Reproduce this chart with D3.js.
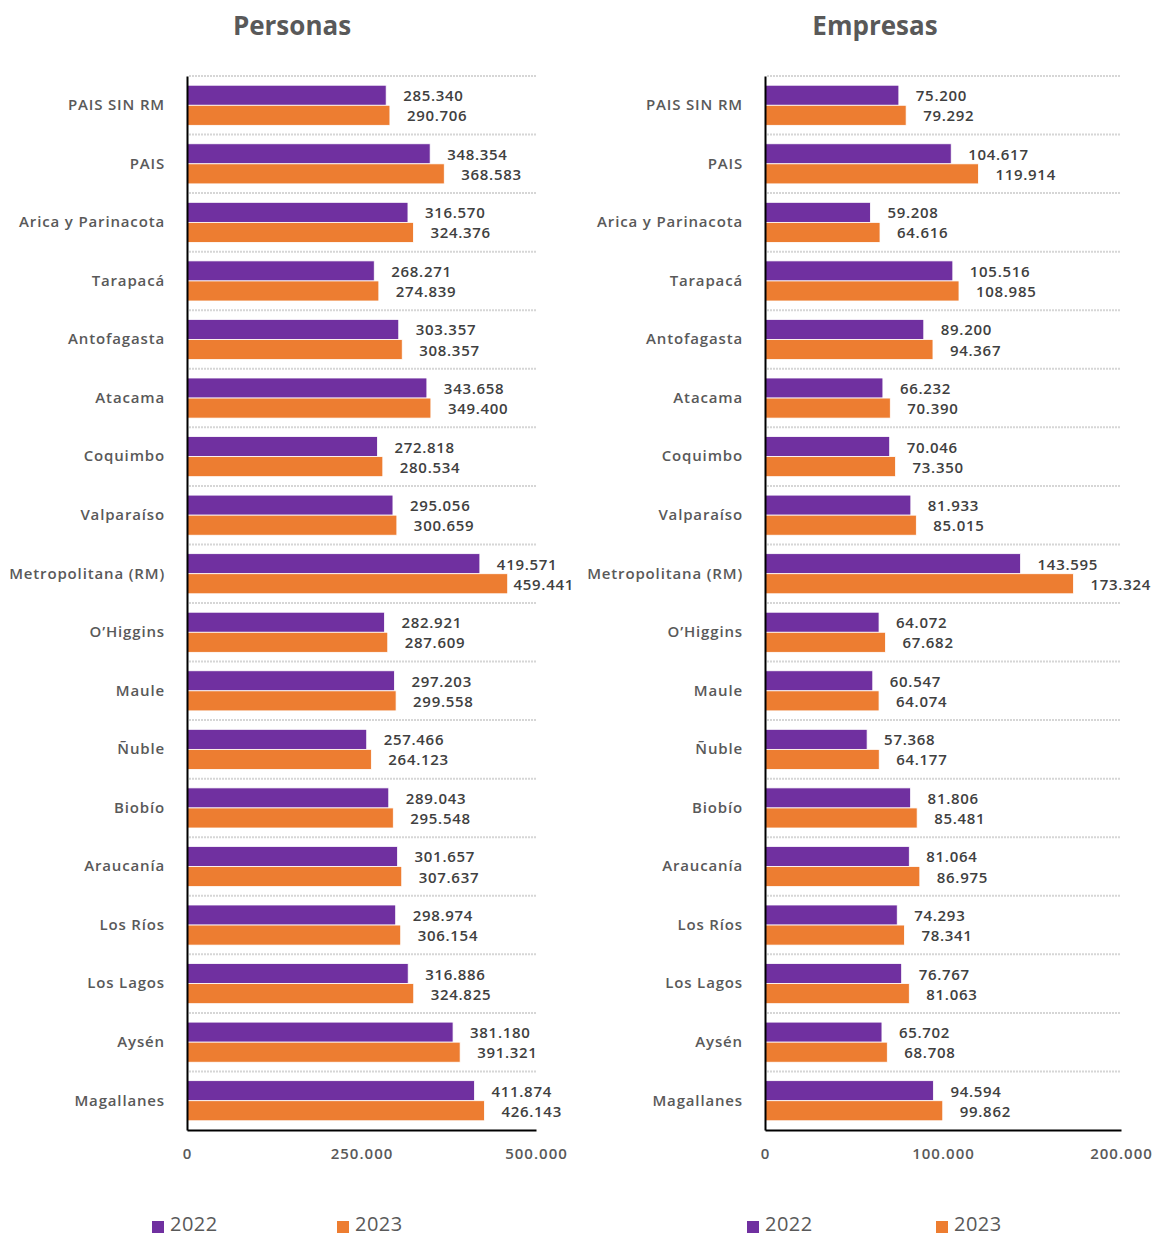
<!DOCTYPE html>
<html><head><meta charset="utf-8">
<script src="https://cdn.jsdelivr.net/npm/d3@7"></script>
<style>
body{margin:0;background:#fff;}
svg{display:block;font-family:"Open Sans",sans-serif;}
</style></head>
<body>
<svg id="chart" width="1152" height="1239"></svg>
<script>
const categories = ["PAIS SIN RM","PAIS","Arica y Parinacota","Tarapacá","Antofagasta","Atacama","Coquimbo","Valparaíso","Metropolitana (RM)","O’Higgins","Maule","Ñuble","Biobío","Araucanía","Los Ríos","Los Lagos","Aysén","Magallanes"];
const seriesNames = ["2022","2023"];
const personas2022 = [285340,348354,316570,268271,303357,343658,272818,295056,419571,282921,297203,257466,289043,301657,298974,316886,381180,411874];
const personas2023 = [290706,368583,324376,274839,308357,349400,280534,300659,459441,287609,299558,264123,295548,307637,306154,324825,391321,426143];
const empresas2022 = [75200,104617,59208,105516,89200,66232,70046,81933,143595,64072,60547,57368,81806,81064,74293,76767,65702,94594];
const empresas2023 = [79292,119914,64616,108985,94367,70390,73350,85015,173324,67682,64074,64177,85481,86975,78341,81063,68708,99862];
const personasTicks = [0,250000,500000];
const empresasTicks = [0,100000,200000];
const titles = ["Personas","Empresas"];

const colors = {"2022":"#7030A0","2023":"#ED7D31"};
const loc = d3.formatLocale({decimal:",",thousands:".",grouping:[3],currency:["$",""]});
const fmt = loc.format(",d");

const svg = d3.select("#chart");
const plotTop = 76, plotBottom = 1130;

const panels = [
  {title:titles[0], d22:personas2022, d23:personas2023, ticks:personasTicks, x0:187, x1:536, titleX:292, legX:[152,337], labelLimit:574},
  {title:titles[1], d22:empresas2022, d23:empresas2023, ticks:empresasTicks, x0:765, x1:1121, titleX:875, legX:[747,936], labelLimit:1152}
];

const y0 = d3.scaleBand().domain(categories).range([plotTop,plotBottom]).padding(0);
const y1 = d3.scaleBand().domain(seriesNames).range([0,y0.bandwidth()]).paddingInner(0).paddingOuter(0.46);

panels.forEach(p=>{
  const g = svg.append("g");
  const x = d3.scaleLinear().domain([0,p.ticks[p.ticks.length-1]]).range([p.x0,p.x1]);

  g.append("text").attr("x",p.titleX).attr("y",35).attr("text-anchor","middle")
    .attr("font-size",26).attr("font-weight",700).attr("fill","#595959").text(p.title);

  g.selectAll(".grid").data(categories).enter().append("line")
    .attr("x1",p.x0+2).attr("x2",p.x1)
    .attr("y1",d=>y0(d)).attr("y2",d=>y0(d))
    .attr("stroke","#d6d6d6").attr("stroke-width",2).attr("stroke-dasharray","2,1");

  const rows = categories.map((c,i)=>({c, vals:[{s:"2022",v:p.d22[i]},{s:"2023",v:p.d23[i]}]}));
  const rg = g.selectAll(".row").data(rows).enter().append("g")
    .attr("transform",d=>`translate(0,${y0(d.c)})`);
  rg.selectAll("rect").data(d=>d.vals).enter().append("rect")
    .attr("x",x(0)).attr("y",d=>y1(d.s)).attr("width",d=>x(d.v)-x(0)).attr("height",y1.bandwidth())
    .attr("fill",d=>colors[d.s]).attr("stroke","#fff").attr("stroke-width",0.8);
  rg.selectAll("text.val").data(d=>d.vals).enter().append("text").attr("class","val")
    .attr("y",d=>y1(d.s)+y1.bandwidth()/2+2).attr("dominant-baseline","middle")
    .attr("font-size",15).attr("font-weight",600).attr("letter-spacing",0.7).attr("fill","#404040")
    .text(d=>fmt(d.v))
    .each(function(d){
      const w = this.getComputedTextLength();
      const xx = Math.min(x(d.v)+17, p.labelLimit - w);
      d3.select(this).attr("x",xx);
    });

  const ya = g.append("g").attr("transform",`translate(${p.x0},0)`)
    .call(d3.axisLeft(y0).tickSize(0).tickPadding(22));
  ya.select(".domain").attr("stroke","#000").attr("stroke-width",2);
  ya.selectAll("text").attr("font-size",15).attr("font-weight",600).attr("letter-spacing",0.85).attr("fill","#595959")
    .attr("font-family","'Open Sans',sans-serif");

  const xa = g.append("g").attr("transform",`translate(0,${plotBottom})`)
    .call(d3.axisBottom(x).tickValues(p.ticks).tickFormat(fmt).tickSize(0).tickSizeOuter(0).tickPadding(18));
  xa.select(".domain").attr("stroke","#000").attr("stroke-width",2);
  xa.selectAll("text").attr("font-size",15).attr("font-weight",600).attr("letter-spacing",1).attr("fill","#595959")
    .attr("font-family","'Open Sans',sans-serif");

  seriesNames.forEach((s,i)=>{
    const lx = p.legX[i];
    g.append("rect").attr("x",lx).attr("y",1221).attr("width",12).attr("height",12).attr("fill",colors[s]);
    g.append("text").attr("x",lx+18).attr("y",1226).attr("dominant-baseline","middle")
      .attr("font-size",20).attr("letter-spacing",0.5).attr("fill","#595959").text(s);
  });
});
</script>
</body></html>
